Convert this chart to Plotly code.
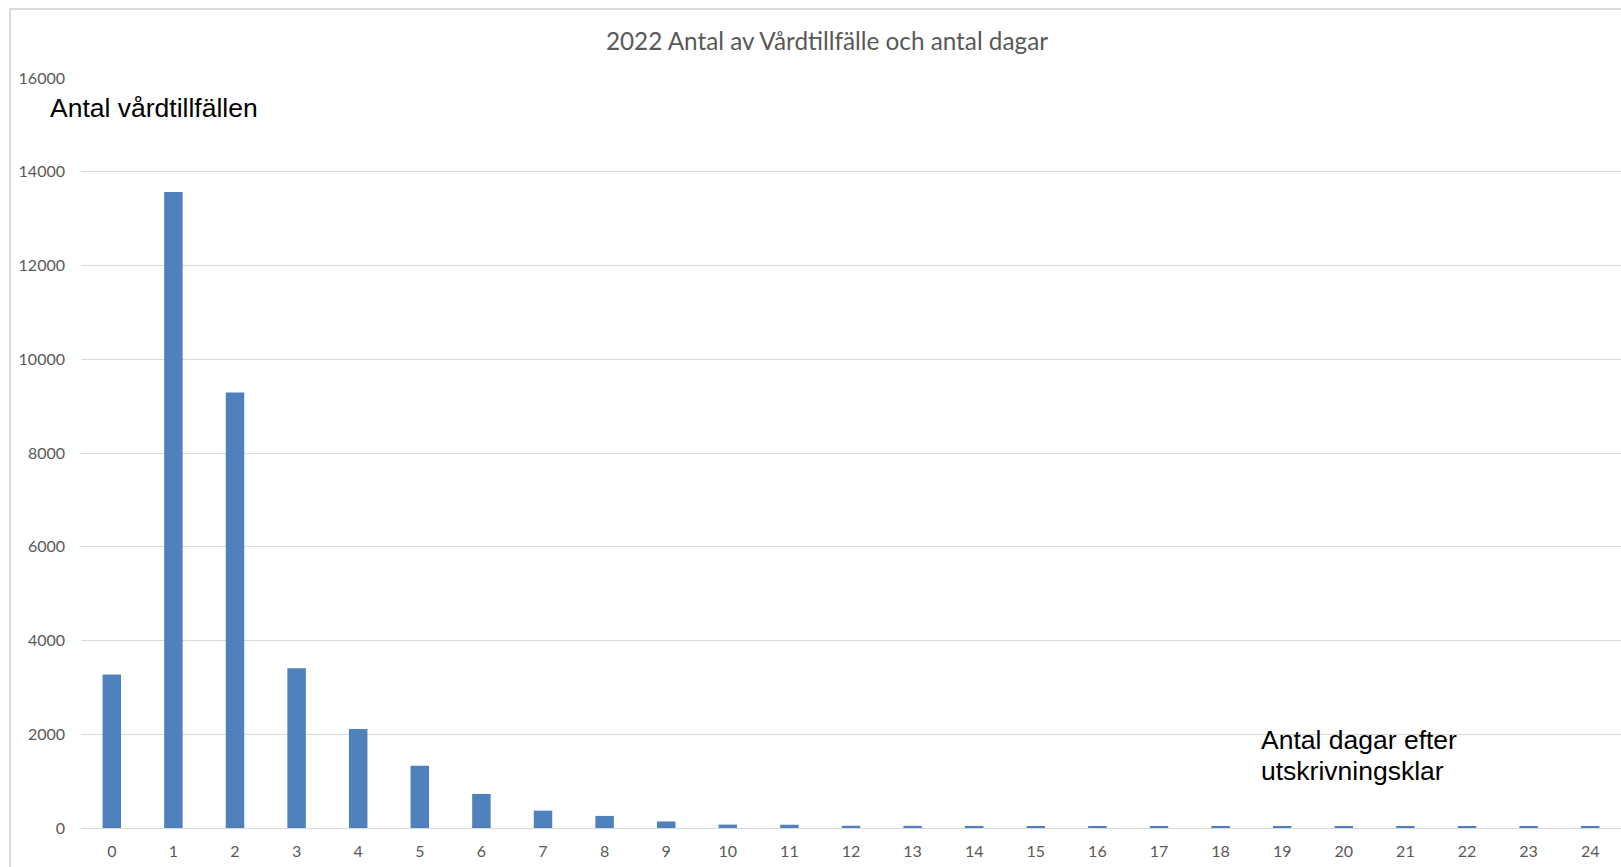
import plotly.graph_objects as go

categories = [str(i) for i in range(25)]
values = [3275, 13570, 9290, 3410, 2110, 1330, 727, 370, 258, 140,
          72, 70, 48, 46, 44, 32, 30, 30, 29, 28, 28, 27, 27, 26, 26]
tick_vals_y = [0, 2000, 4000, 6000, 8000, 10000, 12000, 14000, 16000]
tick_text_y = [str(v) for v in tick_vals_y]

title_text = "2022 Antal av Vårdtillfälle och antal dagar"
y_label = "Antal vårdtillfällen"
x_label_1 = "Antal dagar efter"
x_label_2 = "utskrivningsklar"

W, H = 1621, 867
ML, MR, MT, MB = 81, 0, 78, 39
PW, PH = W - ML - MR, H - MT - MB


def px_x(page_x):
    return (page_x - ML) / PW


def px_y(page_y):
    return 1 - (page_y - MT) / PH


fig = go.Figure()
fig.add_trace(go.Bar(
    x=categories, y=values,
    marker=dict(color="#4F81BD", line=dict(width=0)),
    width=0.3,
))

grey = "#595959"
tick_font = dict(family="Lato, Calibri, sans-serif", size=16, color=grey)

fig.update_layout(
    width=W, height=H,
    margin=dict(l=ML, r=MR, t=MT, b=MB, pad=0),
    paper_bgcolor="white", plot_bgcolor="white",
    showlegend=False,
    title=dict(text=title_text, x=827 / W, xanchor="center",
               y=1 - 41 / H, yanchor="middle",
               font=dict(family="Lato, Calibri, sans-serif", size=24.3, color=grey)),
    xaxis=dict(type="category", range=[-0.5, 24.5], showgrid=False, showline=False,
               ticks="", tickfont=tick_font, ticklabelstandoff=12),
    yaxis=dict(range=[0, 16000], tickvals=tick_vals_y, ticktext=tick_text_y,
               showgrid=True, gridcolor="#d9d9d9",
               gridwidth=1, zeroline=True, zerolinecolor="#d9d9d9", zerolinewidth=1,
               showline=False, ticks="", tickfont=tick_font, ticklabelstandoff=15),
    bargap=0.7,
)

# chart frame (left and top borders)
fx = px_x(10)
fy = px_y(9)
fig.add_shape(type="line", xref="paper", yref="paper", x0=fx, x1=fx, y0=fy, y1=-0.1,
              line=dict(color="#d9d9d9", width=2))
fig.add_shape(type="line", xref="paper", yref="paper", x0=fx, x1=1.05, y0=fy, y1=fy,
              line=dict(color="#d9d9d9", width=2))

ann_font = dict(family="Liberation Sans, Arial, sans-serif", size=26.5, color="black")
fig.add_annotation(text=y_label, xref="paper", yref="paper",
                   x=px_x(48), y=px_y(108), xanchor="left", yanchor="middle",
                   showarrow=False, font=ann_font, align="left")
fig.add_annotation(text=x_label_1, xref="paper", yref="paper",
                   x=px_x(1259), y=px_y(740), xanchor="left", yanchor="middle",
                   showarrow=False, font=ann_font, align="left")
fig.add_annotation(text=x_label_2, xref="paper", yref="paper",
                   x=px_x(1259), y=px_y(771), xanchor="left", yanchor="middle",
                   showarrow=False, font=ann_font, align="left")

fig.write_html(
    "out.html",
    config={"displayModeBar": False},
    post_script="document.body.style.margin='0';document.body.style.overflow='hidden';",
)
